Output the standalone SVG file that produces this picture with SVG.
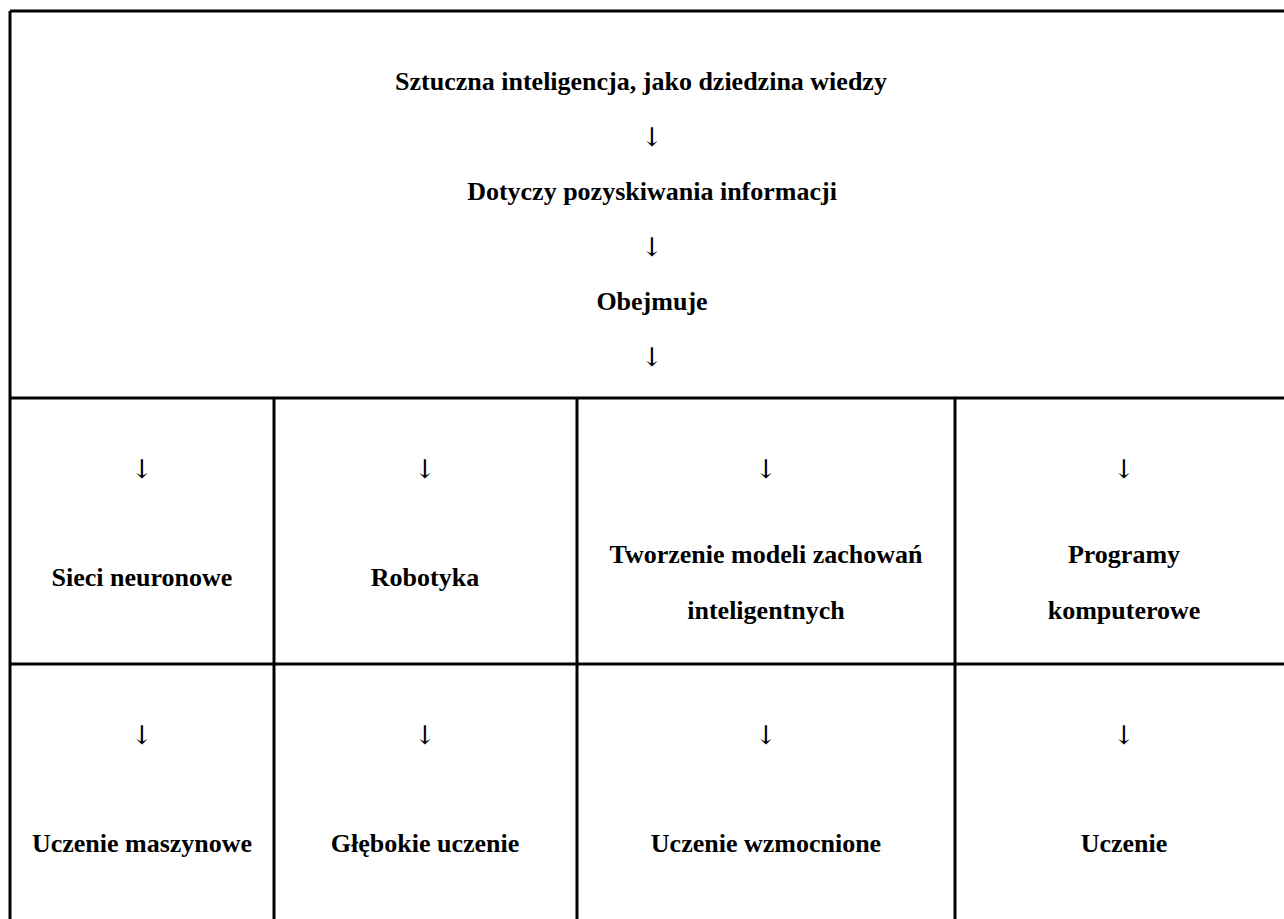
<svg xmlns="http://www.w3.org/2000/svg" width="1284" height="919" viewBox="0 0 1284 919">
<style>
.t{font-family:"Liberation Serif","Times New Roman",serif;font-weight:bold;font-size:26px;fill:#000;text-anchor:middle}
.a{font-family:"DejaVu Serif","DejaVu Sans",serif;font-size:26px;fill:#000;text-anchor:middle}
.ln{stroke:#000;stroke-width:3;fill:none}
</style>
<rect width="1284" height="919" fill="#fff"/>
<g id="grid">
<path class="ln" d="M10,11 H1284 M10,11 V919 M10,398 H1284 M10,664 H1284 M274,398 V919 M577,398 V919 M955,398 V919"/>
</g>
<g id="connectors">
<text class="a" x="652" y="146">↓</text>
<text class="a" x="652" y="256">↓</text>
<text class="a" x="652" y="366">↓</text>
<text class="a" x="142" y="478">↓</text>
<text class="a" x="425" y="478">↓</text>
<text class="a" x="766" y="478">↓</text>
<text class="a" x="1124" y="478">↓</text>
<text class="a" x="142" y="744">↓</text>
<text class="a" x="425" y="744">↓</text>
<text class="a" x="766" y="744">↓</text>
<text class="a" x="1124" y="744">↓</text>
</g>
<g id="n-ai"><text class="t" x="641" y="90">Sztuczna inteligencja, jako dziedzina wiedzy</text></g>
<g id="n-info"><text class="t" x="652" y="200">Dotyczy pozyskiwania informacji</text></g>
<g id="n-obejmuje"><text class="t" x="652" y="310">Obejmuje</text></g>
<g id="n-sieci"><text class="t" x="142" y="586">Sieci neuronowe</text></g>
<g id="n-robotyka"><text class="t" x="425" y="586">Robotyka</text></g>
<g id="n-tworzenie"><text class="t" x="766" y="563">Tworzenie modeli zachowań</text><text class="t" x="766" y="619">inteligentnych</text></g>
<g id="n-programy"><text class="t" x="1124" y="563">Programy</text><text class="t" x="1124" y="619">komputerowe</text></g>
<g id="n-ml"><text class="t" x="142" y="852">Uczenie maszynowe</text></g>
<g id="n-dl"><text class="t" x="425" y="852">Głębokie uczenie</text></g>
<g id="n-rl"><text class="t" x="766" y="852">Uczenie wzmocnione</text></g>
<g id="n-uczenie"><text class="t" x="1124" y="852">Uczenie</text></g>
</svg>
